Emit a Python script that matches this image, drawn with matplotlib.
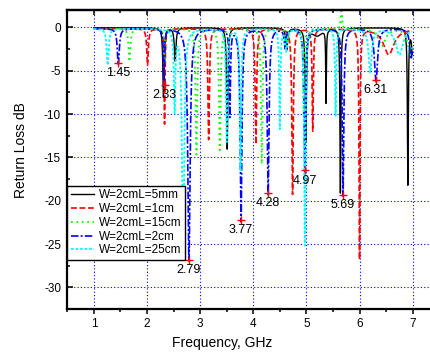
import numpy as np
import matplotlib
matplotlib.use("Agg")
import matplotlib.pyplot as plt

plt.rcParams['font.family'] = ['Liberation Sans', 'DejaVu Sans']
plt.rcParams['axes.unicode_minus'] = False

# ---------------- data ----------------
# each series: resonance centres (GHz), depth (dB), half width (GHz)
series_labels = ["W=2cmL=5mm", "W=2cmL=1cm", "W=2cmL=15cm", "W=2cmL=2cm", "W=2cmL=25cm"]

black_f = [2.31, 2.53, 3.51, 4.63, 4.99, 5.20, 5.37, 5.64, 6.91, 7.00]
black_d = [-8.0, -3.8, -14.0, -2.5, -13.0, -0.9, -8.4, -19.0, -18.0, -3.5]
black_w = [0.014, 0.018, 0.013, 0.020, 0.013, 0.12, 0.007, 0.010, 0.010, 0.02]

red_f = [2.01, 2.33, 3.16, 4.05, 4.74, 5.12, 6.00, 6.55]
red_d = [-4.2, -11.0, -12.8, -13.3, -19.1, -11.8, -26.5, -3.0]
red_w = [0.018, 0.010, 0.016, 0.016, 0.016, 0.013, 0.011, 0.12]

green_f = [1.67, 2.33, 2.93, 3.37, 4.16, 4.64, 4.95, 5.66, 6.42, 6.95]
green_d = [-3.8, -4.0, -14.5, -14.0, -15.6, -2.0, -10.0, 3.5, -2.0, -3.0]
green_w = [0.020, 0.013, 0.018, 0.018, 0.016, 0.020, 0.013, 0.010, 0.08, 0.05]

blue_f = [1.46, 2.32, 2.79, 3.56, 3.77, 4.28, 4.60, 4.97, 5.69, 6.31, 6.97]
blue_d = [-4.2, -6.0, -26.8, -10.0, -22.2, -19.1, -2.2, -16.5, -19.3, -6.1, -3.5]
blue_w = [0.022, 0.013, 0.026, 0.013, 0.020, 0.020, 0.020, 0.018, 0.017, 0.035, 0.03]

cyan_f = [1.26, 2.52, 2.68, 3.50, 3.76, 4.50, 4.62, 4.97, 5.55, 6.20, 6.75]
cyan_d = [-4.2, -9.2, -26.5, -13.0, -16.4, -11.5, -2.5, -25.0, -10.0, -5.0, -3.0]
cyan_w = [0.022, 0.016, 0.024, 0.016, 0.016, 0.013, 0.020, 0.015, 0.013, 0.035, 0.08]

baseline_db = [-0.05, -0.15, -0.15, -0.15, -0.15]
freq_start, freq_end = 1.0, 6.99

marker_f = [1.45, 2.33, 2.79, 3.77, 4.28, 4.97, 5.69, 6.31]
marker_db = [-4.1, -6.6, -26.8, -22.2, -19.1, -16.5, -19.3, -6.1]
marker_txt = ["1.45", "2.33", "2.79", "3.77", "4.28", "4.97", "5.69", "6.31"]

xticks = [1, 2, 3, 4, 5, 6, 7]
yticks = [0, -5, -10, -15, -20, -25, -30]

# ---------------- figure ----------------
W, H = 431, 353
fig = plt.figure(figsize=(W / 100, H / 100), dpi=100)
ax = fig.add_axes([67.3 / W, 1 - 309 / H, (439.2 - 67.3) / W, (309 - 10) / H])

f = np.linspace(freq_start, freq_end, 8001)


def response(fc, dep, wid, base):
    y = np.full_like(f, base)
    for c, d, w in zip(fc, dep, wid):
        y += d / (1.0 + ((f - c) / w) ** 2)
    return y


tables = [(black_f, black_d, black_w), (red_f, red_d, red_w),
          (green_f, green_d, green_w), (blue_f, blue_d, blue_w),
          (cyan_f, cyan_d, cyan_w)]
colors = ["black", "#ff0000", "#00ff00", "#0000ff", "#00ffff"]
styles = ["-", (0, (3.5, 1.6)), (0, (1, 2)), (0, (4.5, 1.3, 1.2, 1.3)), (0, (1.5, 1))]
widths = [1.0, 1.2, 1.3, 1.2, 1.3]

for (fc, dep, wid), base, col, ls, lw, lab in zip(tables, baseline_db, colors, styles, widths, series_labels):
    ax.plot(f, response(fc, dep, wid, base), color=col, linestyle=ls, lw=lw, label=lab)

ax.plot(marker_f, marker_db, linestyle="none", marker="+", color="#ff0000", ms=6, mew=1.0)
for x, y, t in zip(marker_f, marker_db, marker_txt):
    ax.annotate(t, (x, y), xytext=(0, -3), textcoords="offset points",
                ha="center", va="top", fontsize=9)

ax.set_xlim(0.5, 7.5)
ax.set_ylim(-32.5, 2)
ax.set_xticks(xticks)
ax.set_xticks(np.arange(0.5, 7.6, 0.5), minor=True)
ax.set_yticks(yticks)
ax.set_yticks(np.arange(-32.5, 2.1, 2.5), minor=True)
ax.set_yticklabels([str(v) for v in yticks])

ax.grid(True, which="major", color="#0000ff", linestyle=(0, (1, 2)), lw=0.8)
ax.tick_params(axis="x", which="both", direction="out", top=False, labelsize=8.5, width=1.1, pad=3)
ax.tick_params(axis="x", which="major", length=3.4)
ax.tick_params(axis="x", which="minor", length=2)
ax.tick_params(axis="y", which="both", direction="in", right=False, labelsize=8.5, width=1.1, pad=4.5)
ax.tick_params(axis="y", which="major", length=4.3)
ax.tick_params(axis="y", which="minor", length=2.5)
for sp in ax.spines.values():
    sp.set_linewidth(1.6)

# top axis: inward ticks, no labels
top = ax.secondary_xaxis("top")
top.set_xticks(xticks)
top.set_xticks(np.arange(0.5, 7.6, 0.5), minor=True)
top.tick_params(axis="x", which="both", direction="in", labeltop=False, width=1.1)
top.tick_params(axis="x", which="major", length=3.6)
top.tick_params(axis="x", which="minor", length=2)
top.spines["top"].set_linewidth(1.6)

ax.set_xlabel("Frequency, GHz", fontsize=10, va="center")
ax.xaxis.set_label_coords((222 - 67.3) / 371.9, ((353 - 343) / H - (1 - 309 / H)) / (299 / H))
ax.set_ylabel("Return Loss dB", fontsize=10, va="center")
ax.yaxis.set_label_coords((20.7 - 67.3) / 371.9, ((353 - 150) / H - (1 - 309 / H)) / (299 / H))

leg = ax.legend(loc="lower left", bbox_to_anchor=(0.0, (309 - 260) / 299), borderaxespad=0,
                fontsize=8.5, frameon=True, fancybox=False, framealpha=1,
                handlelength=2.0, labelspacing=0.15, borderpad=0.3, handletextpad=0.35)
leg.get_frame().set_edgecolor("black")
leg.get_frame().set_linewidth(1.0)

fig.savefig("out.png", dpi=100)
